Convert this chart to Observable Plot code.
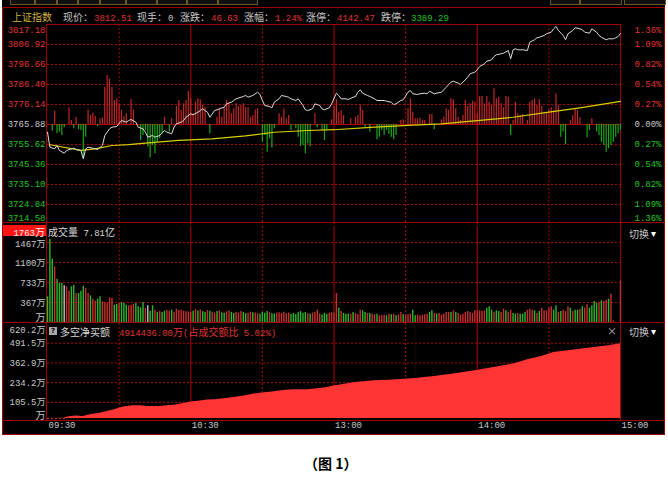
<!DOCTYPE html>
<html><head><meta charset="utf-8">
<script src="https://cdn.jsdelivr.net/npm/d3@7"></script>
<script src="https://cdn.jsdelivr.net/npm/@observablehq/plot@0.6"></script>
<style>
body{margin:0;background:#fff;}
#root{position:relative;width:668px;height:478px;background:#fff;overflow:hidden;}
.box{position:absolute;}
.ln{position:absolute;background:#a00000;}
.t{position:absolute;white-space:nowrap;line-height:12px;height:12px;}
.c{font-family:"Noto Sans CJK SC";font-size:10px;}
.a{font-family:"Liberation Mono";font-size:9px;}
.panel{position:absolute;left:2px;}
.panel svg{overflow:visible;background:transparent;}
</style></head>
<body><div id="root"></div>
<script>
// ---------- data ----------
const prevClose = 3765.88;
const priceTicks = [3817.18,3806.92,3796.66,3786.40,3776.14,3765.88,3755.62,3745.36,3735.10,3724.84,3714.58];
const volTicks = [1763,1467,1100,733,367,0];
const netTicks = [620.2,491.5,362.9,234.2,105.5,0];
const timeTicks = [0,60,120,180,240];
const timeLabels = ["09:30","10:30","13:00","14:00","15:00"];
const hourLines = [60,120,180];
const halfHourLines = [30,90,150,210];

// [minute, price]
const pricePoints = [[0,3761.93],[1,3754.23],[3,3753.41],[4,3755.11],[5,3752.54],[7,3751.16],[8,3752.54],[10,3753.41],[11,3753.72],[12,3753.05],[14,3752.54],[15,3748.28],[16,3753.41],[17,3754.23],[19,3753.72],[20,3753.41],[21,3753.05],[23,3755.11],[24,3760.24],[26,3763.68],[27,3764.49],[29,3764.85],[31,3767.93],[33,3767.06],[34,3767.93],[35,3768.45],[37,3767.06],[38,3764.49],[40,3763.68],[41,3761.93],[42,3759.36],[44,3760.24],[45,3759.36],[47,3760.24],[49,3762.80],[50,3761.93],[52,3761.11],[53,3764.49],[54,3766.24],[56,3767.06],[57,3767.93],[58,3769.62],[60,3771.37],[61,3770.86],[63,3772.19],[64,3773.06],[65,3773.93],[67,3772.19],[68,3769.62],[70,3773.06],[71,3773.42],[72,3773.93],[74,3774.75],[75,3776.50],[77,3777.32],[78,3778.19],[79,3779.06],[82,3780.24],[83,3780.76],[84,3779.88],[86,3780.76],[88,3782.45],[89,3781.27],[90,3778.19],[91,3775.63],[93,3775.11],[94,3774.45],[95,3777.32],[97,3779.06],[98,3780.76],[100,3780.24],[101,3779.88],[102,3779.06],[104,3778.19],[105,3779.06],[107,3775.63],[108,3773.42],[109,3773.06],[111,3773.93],[112,3776.50],[114,3775.63],[115,3773.93],[116,3773.42],[118,3774.45],[119,3776.50],[121,3781.94],[122,3780.76],[123,3779.06],[125,3779.06],[126,3778.71],[128,3779.88],[129,3780.24],[130,3782.45],[131,3783.68],[132,3781.94],[134,3780.76],[135,3780.24],[137,3779.06],[138,3778.19],[141,3778.19],[142,3777.83],[144,3777.32],[145,3776.14],[146,3776.50],[148,3778.19],[149,3778.55],[151,3782.45],[152,3783.32],[153,3781.63],[155,3781.27],[156,3781.63],[158,3781.94],[159,3781.63],[160,3782.96],[162,3781.63],[163,3781.94],[165,3782.45],[167,3785.01],[169,3787.58],[170,3788.09],[172,3787.07],[173,3786.40],[174,3787.58],[176,3790.14],[177,3791.89],[179,3792.71],[180,3793.94],[181,3795.63],[183,3797.02],[184,3798.35],[186,3799.07],[187,3800.76],[188,3801.64],[190,3802.15],[191,3802.46],[193,3803.84],[194,3799.58],[195,3804.20],[196,3804.71],[197,3804.20],[199,3804.20],[201,3803.84],[202,3808.10],[204,3809.33],[205,3810.36],[206,3810.66],[208,3811.54],[209,3812.41],[211,3813.23],[212,3814.97],[213,3816.15],[214,3814.10],[216,3811.54],[217,3809.33],[218,3812.41],[220,3814.10],[221,3815.49],[223,3814.97],[224,3814.46],[225,3813.23],[227,3812.72],[228,3814.97],[230,3813.23],[231,3811.54],[232,3810.66],[234,3809.33],[235,3809.84],[237,3809.84],[238,3810.36],[239,3811.00],[240,3812.51]];

// [minute, average price]
const avgPoints = [[1,3755.5],[14,3752.6],[20,3753.4],[27,3755.1],[34,3755.6],[41,3756.3],[55,3757.7],[69,3758.5],[83,3760.0],[95,3761.9],[109,3762.8],[120,3763.2],[137,3764.5],[151,3765.4],[165,3766.2],[180,3767.9],[195,3769.6],[210,3772.2],[223,3774.4],[240,3777.7]];

// [minute, strength] (index points, + red / - green)
const strengthBars = [[2,-3.4],[3,6.8],[4,-4.8],[5,-3.9],[6,-5.6],[7,-1.7],[9,8.6],[10,2.1],[11,-2.2],[12,3.7],[13,-2.7],[14,-3.1],[15,-17],[16,-6.5],[17,7.5],[18,4.6],[19,5.8],[20,4.1],[21,-1.0],[22,2.9],[23,3.4],[24,19.1],[25,25.1],[26,23.4],[27,19.1],[28,12.3],[29,13.2],[30,10.6],[31,7.2],[32,4.1],[33,5.5],[35,12.8],[36,7.5],[39,-8.2],[40,-5.6],[41,-3.1],[42,-11.6],[43,-17.1],[44,-10.8],[45,-15.0],[46,-9.1],[47,-7.3],[48,-4.8],[49,3.7],[51,-3.9],[52,2.9],[54,9.2],[55,12.3],[56,7.2],[57,10.6],[58,12.3],[59,17.1],[60,13.2],[61,5.5],[62,11.4],[63,13.2],[64,12.7],[65,9.7],[66,8.9],[68,-4.8],[71,3.7],[72,8.1],[73,3.7],[74,8.9],[75,12.3],[76,10.6],[77,5.5],[78,8.1],[79,10.6],[80,9.2],[81,9.7],[82,10.6],[83,8.6],[84,8.6],[85,3.7],[86,4.6],[87,7.5],[88,8.1],[90,-9.1],[91,-5.6],[92,-14.2],[93,-7.3],[94,-12.0],[95,-2.2],[97,5.5],[98,3.7],[99,8.1],[100,2.9],[101,4.6],[102,-3.1],[104,-2.2],[105,-6.5],[106,-11.3],[107,-10.8],[108,-15.0],[109,-9.9],[110,-11.6],[112,5.5],[113,-1.7],[115,-3.1],[116,-8.2],[117,-3.1],[119,2.4],[120,9.2],[121,12.7],[122,6.3],[123,7.2],[124,4.6],[127,2.9],[129,3.7],[130,4.6],[131,9.7],[132,7.2],[133,-1.4],[135,-3.9],[138,-7.8],[139,-6.5],[140,-3.1],[141,-5.6],[142,-3.1],[143,-5.1],[144,-6.5],[145,-7.8],[146,-5.6],[148,2.1],[149,2.4],[151,8.1],[152,13.2],[153,6.3],[154,2.9],[155,2.9],[156,3.2],[157,2.1],[158,2.1],[160,5.1],[161,5.1],[162,-2.7],[165,2.4],[166,3.7],[167,8.1],[168,7.2],[169,13.2],[170,12.7],[171,8.1],[172,3.7],[173,2.1],[174,4.6],[175,12.3],[176,9.2],[177,10.6],[178,12.0],[179,11.4],[180,5.5],[181,14.4],[182,14.4],[183,10.6],[184,14.4],[185,11.4],[186,9.7],[187,18.3],[188,13.2],[189,13.7],[190,10.6],[191,8.6],[192,14.4],[193,14.0],[194,-5.6],[195,2.1],[196,11.4],[197,5.5],[198,4.6],[199,5.1],[201,2.1],[202,11.4],[203,12.3],[204,13.2],[205,9.7],[206,12.7],[207,9.2],[208,6.3],[209,6.3],[210,7.5],[211,8.6],[212,7.2],[213,15.7],[214,9.7],[215,-6.5],[216,-3.9],[217,-10.3],[219,2.1],[220,4.6],[221,8.1],[222,7.2],[223,3.4],[226,-6.8],[227,-3.1],[228,2.9],[230,-3.9],[231,-5.6],[232,-9.1],[233,-10.8],[234,-14.2],[235,-12.5],[236,-10.8],[237,-9.1],[238,-6.5],[239,-4.8],[240,-3.1]];

// volume per minute (万), minute 0..240
const volumes = [471,1529,1162,1021,795,716,716,673,655,575,655,685,532,532,575,667,624,532,489,428,391,428,471,379,367,349,453,440,318,330,349,367,349,318,306,318,330,349,288,269,367,257,306,208,306,226,184,208,184,208,226,208,226,184,245,226,226,208,196,196,184,208,
240,210,230,200,185,220,205,190,175,200,215,180,170,195,210,185,165,190,175,200,185,160,170,190,180,175,165,150,185,170,200,175,160,155,170,180,165,190,160,175,150,165,145,180,200,170,185,160,150,175,190,230,155,140,170,150,165,180,175,
532,263,202,165,153,153,153,184,165,141,226,214,184,165,165,153,141,153,122,122,135,122,153,141,153,122,141,184,141,135,141,153,226,122,135,122,135,141,153,184,214,165,153,165,135,153,184,184,184,214,184,165,135,153,184,202,184,165,214,214,214,202,214,263,288,226,184,214,202,184,245,214,184,226,165,153,165,153,153,184,226,245,226,214,165,202,263,214,214,263,288,226,306,184,202,226,202,288,263,202,226,226,245,288,263,324,263,306,386,349,367,398,386,410,428,520,30,0,0,765];
// r = up (red), g = down (green), w = flat
const volumeSides = "gggrgggwrr"+"ggrgggrrgr"+"rggrrrrrgg"+"rgggrrrggg"+"grwggrgrgg"+"rrgrrrrrrr"+"rg"+
  "rgrggrgrrg"+"rggrrggrrr"+"ggrrgrrggg"+"grggrrrrrr"+"gggggggrgr"+"rrrgggrrr"+
  "rgrgggrgrr"+"rggrgrrgrr"+"rgrgrgrrgr"+"rrggrrrrrg"+"grgrrrrrgr"+"grrrrrrrrr"+"rrrgggrggr"+"rgrrggrggg"+"rrrgrgrrrr"+"rggrgrrrgr"+"ggrgrrgggg"+"rgrrgr"+"rrrr";

// [minute, net buy (万)]
const netPoints = [[0,0],[7,2],[8,8],[10,13],[12,17],[15,13],[17,22],[19,28],[22,35],[25,46],[28,57],[31,72],[33,78],[36,83],[39,83],[42,78],[45,78],[47,78],[50,83],[53,87],[56,94],[59,104],[61,109],[64,115],[67,120],[70,122],[72,126],[75,131],[78,137],[81,144],[84,152],[86,159],[89,165],[92,170],[95,174],[98,181],[100,185],[103,187],[106,187],[109,187],[112,192],[114,196],[117,202],[120,212],[129,235],[137,246],[145,252],[154,261],[162,274],[170,290],[179,311],[187,333],[196,359],[201,383],[207,405],[212,431],[218,442],[224,453],[229,464],[235,475],[240,488]];

const header = [["上证指数","gold"],["现价：","gray"],["3812.51","red"],["现手：","gray"],["0","gray"],["涨跌：","gray"],["46.63","red"],["涨幅：","gray"],["1.24%","red"],["涨停：","gray"],["4142.47","red"],["跌停：","gray"],["3389.29","green"]];
const headerX = [12,63,94,137,168,180,211,244,275,306,337,381,411];

// ---------- styles ----------
const C = {red:"#e03434", green:"#22c422", gray:"#c8c8c8", gold:"#d2b240", grid:"#a80000", line:"#a00000"};
const barRed = "#c42626", barGreen = "#1aa81a";
const FONT = '"Liberation Mono","Noto Sans CJK SC",monospace';

const root = document.getElementById("root");
function el(cls, css, html){ const d=document.createElement("div"); d.className=cls; Object.assign(d.style,css); if(html!==undefined) d.innerHTML=html; root.appendChild(d); return d; }
function mixed(s){ return s.replace(/([\x00-\x7F]+)|([^\x00-\x7F]+)/g,(m,a,b)=> a?`<span class="a">${a}</span>`:`<span class="c">${b}</span>`); }
function txt(s,x,cy,color,extra){ return el("t",Object.assign({left:x+"px",top:(cy-6)+"px",color},extra||{}),mixed(s)); }

// black window
el("box",{left:"2px",top:"0px",width:"663px",height:"435px",background:"#000"});
// top tab strip
[[10,33],[35,55],[57,76],[78,98],[100,124],[126,155],[157,185],[187,216],[218,256],[550,578],[580,620],[624,664]].forEach(([a,b])=>
  el("box",{left:a+"px",top:"0px",width:(b-a)+"px",height:"4px",borderLeft:"1px solid #6a5a20",borderRight:"1px solid #6a5a20",borderBottom:"1px solid #6a5a20",background:"#101010"}));
// structural lines
const H=(x1,x2,y)=>el("ln",{left:x1+"px",top:y+"px",width:(x2-x1)+"px",height:"1px"});
const V=(x,y1,y2)=>el("ln",{left:x+"px",top:y1+"px",width:"1px",height:(y2-y1)+"px"});
H(2,665,7); H(47,621,24); H(2,665,222); H(2,665,322); H(2,665,420); H(2,665,434);
V(2,7,435); V(664,7,435); V(46,24,421); V(620,24,421);

// header
header.forEach(([s,c],i)=>txt(s,headerX[i],15.5,C[c]));

// ---------- panel 1: price ----------
const xScale = {domain:[0,240], axis:null};
const plotStyle = {background:"transparent", overflow:"visible", fontFamily:FONT, fontSize:"9px"};
const priceData = pricePoints.map(([m,p])=>({m,p}));
const avgData = avgPoints.map(([m,p])=>({m,p}));
const sData = strengthBars.map(([m,v])=>({m,v}));
const pct = p => (Math.abs(p-prevClose)/prevClose*100).toFixed(2)+"%";
const pTop = priceTicks[0], pBot = priceTicks[priceTicks.length-1];
const upT = priceTicks.filter(p=>p>prevClose), dnT = priceTicks.filter(p=>p<prevClose);
const lbl = (ticks, fill, side) => {
  const base = {y:d=>d, fontSize:9, fontFamily:FONT, fill, frameAnchor:side, textAnchor:"end", dx: side==="left"?-2:41};
  const txtf = side==="left" ? (d=>d.toFixed(2)) : pct;
  return [
    Plot.text(ticks.filter(d=>d!==pTop && d!==pBot), {...base, text:txtf}),
    Plot.text(ticks.filter(d=>d===pTop), {...base, text:txtf, dy:6}),
    Plot.text(ticks.filter(d=>d===pBot), {...base, text:txtf, dy:-6})
  ];
};
const p1 = Plot.plot({
  width:663, height:208, marginTop:4, marginBottom:4, marginLeft:45, marginRight:45,
  x:xScale, y:{domain:[pBot,pTop], axis:null}, style:plotStyle,
  marks:[
    Plot.ruleY(priceTicks.filter(p=>p!==prevClose && p!==pTop && p!==pBot), {stroke:C.grid, strokeDasharray:"2,2"}),
    Plot.ruleX(halfHourLines, {stroke:C.grid, strokeDasharray:"2,2"}),
    Plot.ruleX(hourLines, {stroke:"#b00000"}),
    Plot.ruleY([prevClose], {stroke:"#b00000"}),
    Plot.ruleX(sData.filter(d=>d.v>0), {x:"m", y1:prevClose, y2:d=>prevClose+d.v, stroke:barRed, strokeWidth:1.2}),
    Plot.ruleX(sData.filter(d=>d.v<0), {x:"m", y1:prevClose, y2:d=>prevClose+d.v, stroke:barGreen, strokeWidth:1.2}),
    Plot.line(avgData, {x:"m", y:"p", stroke:"#d8d000", strokeWidth:1.2}),
    Plot.line(priceData, {x:"m", y:"p", stroke:"#dcdcdc", strokeWidth:1}),
    ...lbl(upT, C.red, "left"), ...lbl([prevClose], C.gray, "left"), ...lbl(dnT, C.green, "left"),
    ...lbl(upT, C.red, "right"), ...lbl([prevClose], C.gray, "right"), ...lbl(dnT, C.green, "right")
  ]
});
el("panel",{top:"20px"}).appendChild(p1);

// ---------- panel 2: volume ----------
const volData = volumes.map((v,m)=>({m, v, s:volumeSides[m]}));
const sideColor = {r:"#c83030", g:"#2cb82c", w:"#c0c0c0"};
const volTop = volTicks[0];
const p2 = Plot.plot({
  width:663, height:104, marginTop:4, marginBottom:4, marginLeft:45, marginRight:45,
  x:xScale, y:{domain:[0,volTop], axis:null}, style:plotStyle,
  marks:[
    Plot.ruleY(volTicks.filter(v=>v>0 && v<volTop), {stroke:C.grid, strokeDasharray:"2,2"}),
    Plot.ruleX(halfHourLines, {stroke:C.grid, strokeDasharray:"2,2"}),
    Plot.ruleX(hourLines, {stroke:"#b00000"}),
    ...["r","g","w"].map(s=>Plot.ruleX(volData.filter(d=>d.s===s && d.v>0), {x:"m", y1:0, y2:"v", stroke:sideColor[s], strokeWidth:1.4})),
    Plot.text(volTicks.filter(v=>v>0 && v<volTop), {y:d=>d, text:d=>d+"万", frameAnchor:"left", textAnchor:"end", dx:-2, dy:1, fill:C.gray, fontSize:9, fontFamily:FONT}),
    Plot.text([0], {y:d=>d, text:()=>"万", frameAnchor:"left", textAnchor:"end", dx:-2, dy:-5, fill:C.gray, fontSize:10, fontFamily:FONT})
  ]
});
el("panel",{top:"222px"}).appendChild(p2);
el("box",{left:"3px",top:"225px",width:"43px",height:"11px",background:"#ff1414"});
el("t",{left:"3px",top:"224.5px",width:"42px",textAlign:"right",color:"#f0f0f0"},mixed(volTop+"万"));
txt("成交量 7.81亿",48,231,"#d8d8d8");
txt("切换",629,233,"#c8c8c8"); txt("▾",651,232.5,"#ffffff",{fontSize:"8px",fontFamily:"DejaVu Sans"});

// ---------- panel 3: net buy ----------
const netData = netPoints.map(([m,v])=>({m,v}));
const netTop = netTicks[0];
const timeData = timeTicks.map((m,i)=>({m, label:timeLabels[i]}));
const p3 = Plot.plot({
  width:663, height:119, marginTop:4, marginBottom:20, marginLeft:45, marginRight:45,
  x:xScale, y:{domain:[0,netTop], axis:null}, style:plotStyle,
  marks:[
    Plot.ruleY(netTicks.filter(v=>v>0 && v<netTop), {stroke:C.grid, strokeDasharray:"2,2"}),
    Plot.ruleX(halfHourLines, {stroke:C.grid, strokeDasharray:"2,2"}),
    Plot.ruleX(hourLines, {stroke:"#b00000"}),
    Plot.areaY(netData, {x:"m", y:"v", fill:"#ff3434"}),
    Plot.ruleY([0], {x1:0, x2:8, stroke:"#d02020", strokeDasharray:"2,2"}),
    Plot.text(netTicks.filter(v=>v>0 && v<netTop), {y:d=>d, text:d=>d.toFixed(1)+"万", frameAnchor:"left", textAnchor:"end", dx:-2, fill:C.gray, fontSize:9, fontFamily:FONT}),
    Plot.text([netTop], {y:d=>d, text:d=>d.toFixed(1)+"万", frameAnchor:"left", textAnchor:"end", dx:-2, dy:7, fill:C.gray, fontSize:9, fontFamily:FONT}),
    Plot.text([0], {y:d=>d, text:()=>"万", frameAnchor:"left", textAnchor:"end", dx:-2, dy:-3, fill:C.gray, fontSize:10, fontFamily:FONT}),
    Plot.text(timeData, {x:"m", text:"label", frameAnchor:"bottom", textAnchor:"start", dy:9, dx:1, fill:C.gray, fontSize:9, fontFamily:FONT})
  ]
});
el("panel",{top:"319px"}).appendChild(p3);
el("box",{left:"49px",top:"327px",width:"8px",height:"8px",background:"#a8a8a8",color:"#000",font:"bold 7px 'DejaVu Sans'",lineHeight:"8px",textAlign:"center"},"?");
txt("多空净买额",60,331,"#d8d8d8");
txt("4914436.00万(占成交额比 5.02%)",119,331,"#e03434");
txt("×",607,331,"#b8b8b8",{fontFamily:"DejaVu Sans",fontSize:"11px"});
txt("切换",629,331,"#c8c8c8"); txt("▾",651,330.5,"#ffffff",{fontSize:"8px",fontFamily:"DejaVu Sans"});

// caption
el("t",{left:"304px",top:"453px",height:"18px",lineHeight:"18px",color:"#000",font:"bold 14px 'Noto Sans CJK SC'"},"（图 1）");
</script>
</body></html>
